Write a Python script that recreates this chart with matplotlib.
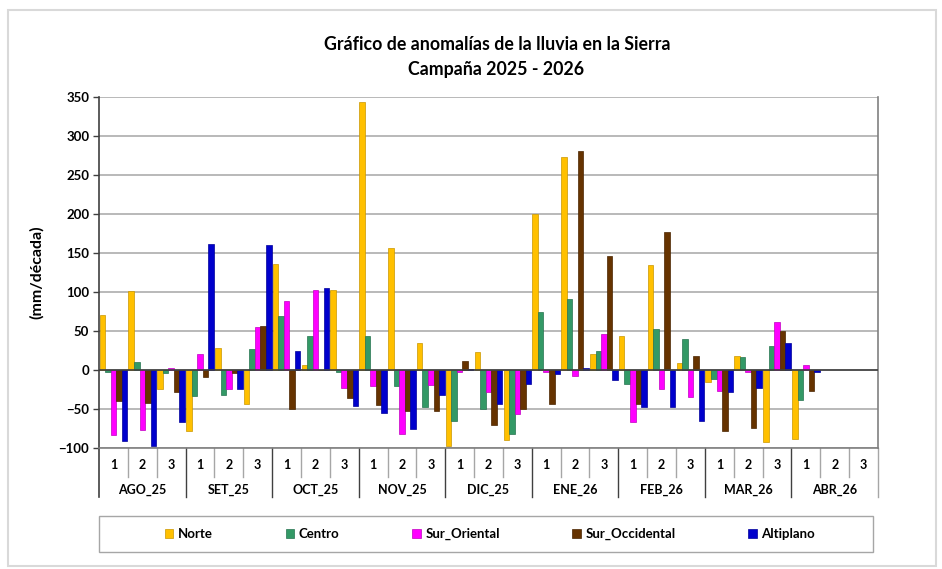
import numpy as np
import matplotlib.pyplot as plt
from matplotlib.patches import Rectangle

plt.rcParams['font.family'] = ['Lato', 'DejaVu Sans']
plt.rcParams['font.weight'] = 'bold'

months = ['AGO_25', 'SET_25', 'OCT_25', 'NOV_25', 'DIC_25', 'ENE_26', 'FEB_26', 'MAR_26', 'ABR_26']
decades = ['1', '2', '3']
nan = np.nan

# anomalias por decada (mm/decada)
norte = [70, 101, -24, -78, 28, -43, 136, 6, 102, 344, 156, 35, -97, 23, -90,
         200, 273, 21, 43, 135, 9, -16, 18, -92, -89, nan, nan]
centro = [-3, 10, -4, -33, -32, 27, 69, 44, -2, 43, -21, -48, -65, -50, -82,
          74, 91, 25, -18, 53, 40, -11, 17, 31, -38, nan, nan]
sur_oriental = [-83, -77, 3, 21, -24, 55, 89, 102, -23, -21, -82, -19, -3, -28, -57,
                -3, -8, 46, -67, -24, -34, -27, -3, 61, 7, nan, nan]
sur_occidental = [-40, -42, -28, -9, -4, 56, -50, 0, -36, -45, -52, -52, 11, -70, -50,
                  -43, 281, 146, -43, 177, 18, -78, -74, 50, -27, nan, nan]
altiplano = [-91, -97, -67, 162, -24, 160, 24, 105, -46, -55, -75, -32, 1, -43, -18,
             -5, 2, -13, -47, -47, -65, -28, -23, 34, -2, nan, nan]

series = [
    ('Norte', norte, '#FFC000', '#C99700'),
    ('Centro', centro, '#339966', '#267350'),
    ('Sur_Oriental', sur_oriental, '#FF00FF', '#C000C0'),
    ('Sur_Occidental', sur_occidental, '#663300', '#4A2500'),
    ('Altiplano', altiplano, '#0000CC', '#000099'),
]

W, H = 942, 569
fig = plt.figure(figsize=(W / 100, H / 100), dpi=100)


def fx(px):
    return px / W


def fy(py):
    return 1 - py / H


ax = fig.add_axes([fx(99), fy(448), fx(878) - fx(99), fy(97) - fy(448)])

n = len(norte)
x = np.arange(n)
bw = 0.192
for k, (name, vals, col, edge) in enumerate(series):
    ax.bar(x + 0.5 + (k - 2) * bw, vals, bw, color=col, edgecolor=edge, linewidth=0.5,
           label=name, zorder=3)

ax.set_xlim(0, n)
ax.set_ylim(-100, 350)
ax.set_yticks(np.arange(-100, 351, 50))
ax.tick_params(axis='y', labelsize=9.5, length=4, width=1, colors='#404040',
               labelcolor='black', pad=3)
ax.set_xticks([])
for lab in ax.get_yticklabels():
    lab.set_fontweight('bold')
ax.grid(axis='y', color='#B3B3B3', linewidth=1.3, zorder=0)
ax.axhline(0, color='#404040', linewidth=1.2, zorder=4)

ax.spines['top'].set_visible(False)
ax.spines['left'].set_color('#404040')
ax.spines['left'].set_linewidth(1.2)
ax.spines['right'].set_color('#808080')
ax.spines['right'].set_linewidth(1.2)
ax.spines['bottom'].set_color('#808080')
ax.spines['bottom'].set_linewidth(1.2)

# etiquetas de categoria en dos niveles
tr = ax.get_xaxis_transform()
for i in range(n):
    ax.text(i + 0.5, -0.048, decades[i % 3], transform=tr, ha='center', va='center',
            fontsize=9, fontweight='bold')
for i in range(1, n):
    if i % 3 == 0:
        ax.plot([i, i], [0, -0.14], transform=tr, color='#404040', lw=1, clip_on=False)
    else:
        ax.plot([i, i], [0, -0.082], transform=tr, color='#A6A6A6', lw=1, clip_on=False)
ax.plot([0, 0], [0, -0.14], transform=tr, color='#404040', lw=1.2, clip_on=False)
ax.plot([n, n], [0, -0.14], transform=tr, color='#A6A6A6', lw=1, clip_on=False)
for m, name in enumerate(months):
    ax.text(m * 3 + 1.5, -0.12, name, transform=tr, ha='center', va='center',
            fontsize=9, fontweight='bold')

fig.text(fx(37), fy(272), '(mm/década)', rotation=90, ha='center', va='center',
         fontsize=11.5, fontweight='bold')

fig.text(fx(497), fy(45), 'Gráfico de anomalías de la lluvia en la Sierra', ha='center',
         va='center', fontsize=12.8, fontweight='bold')
fig.text(fx(496), fy(69), 'Campaña 2025 - 2026', ha='center', va='center',
         fontsize=12.8, fontweight='bold')

# leyenda
handles, labels = ax.get_legend_handles_labels()
fig.legend(handles, labels, loc='center', bbox_to_anchor=(fx(490), fy(534)), ncol=5,
           frameon=False, fontsize=9.5, handlelength=0.65, handleheight=0.65,
           handletextpad=0.35, columnspacing=5.5)
fig.patches.append(Rectangle((fx(99), fy(552)), fx(873) - fx(99), fy(516) - fy(552),
                             transform=fig.transFigure, fill=False, edgecolor='#A6A6A6', lw=1))
fig.patches.append(Rectangle((fx(8), fy(566)), fx(936) - fx(8), fy(10) - fy(566),
                             transform=fig.transFigure, fill=False, edgecolor='#D9D9D9', lw=1.5))

fig.savefig('out.png', dpi=100)
